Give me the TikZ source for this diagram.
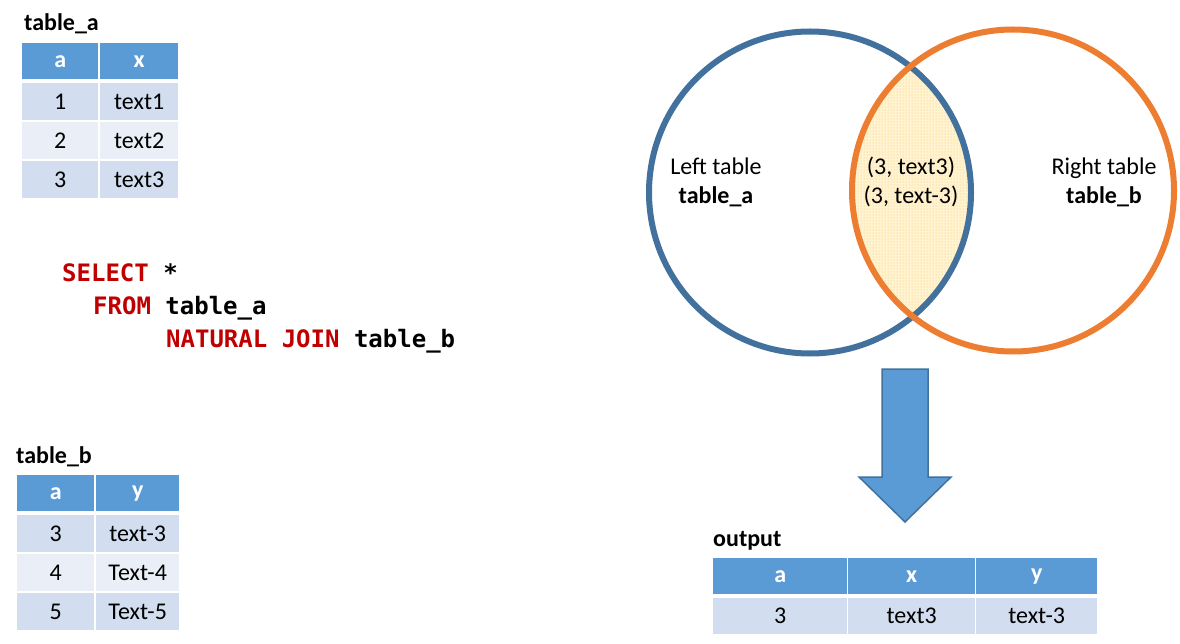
\documentclass[tikz,border=0pt]{standalone}
\usepackage{fontspec}
\setmainfont{Carlito}
\newfontfamily\sqlfont{DejaVu Sans Mono}
\usetikzlibrary{patterns}
\definecolor{hdr}{HTML}{5B9BD5}
\definecolor{rowdark}{HTML}{D2DEEF}
\definecolor{rowlight}{HTML}{EAEFF7}
\definecolor{vblue}{HTML}{41719C}
\definecolor{vorange}{HTML}{ED7D31}
\definecolor{sqlred}{HTML}{C00000}
\definecolor{lensfill}{HTML}{FFF3D2}
\definecolor{lensdot}{HTML}{F5C85A}
\definecolor{arrowedge}{HTML}{41719C}
\tikzset{
  cellbase/.style={anchor=north west, inner sep=0pt, font=\fontsize{24}{28}\selectfont},
  hdrcell/.style={cellbase, fill=hdr, text=white, font=\fontsize{24}{28}\selectfont\bfseries},
  darkcell/.style={cellbase, fill=rowdark, text=black},
  lightcell/.style={cellbase, fill=rowlight, text=black},
  tlabel/.style={anchor=base west, inner sep=0pt, font=\fontsize{24}{28}\selectfont\bfseries},
  sqlline/.style={anchor=base west, inner sep=0pt, font=\sqlfont\bfseries\fontsize{24}{28}\selectfont},
  venntext/.style={anchor=base, inner sep=0pt, font=\fontsize{24}{28}\selectfont},
  vennbold/.style={anchor=base, inner sep=0pt, font=\fontsize{24}{28}\selectfont\bfseries},
  ring/.style={line width=6pt}
}
\begin{document}
\begin{tikzpicture}[x=1pt,y=-1pt]
\useasboundingbox[fill=white] (0,0) rectangle (1180,644);

% ---------- table_a ----------
\node[tlabel] (talabel) at (24,31) {table\_a};
\node[hdrcell, minimum width=76pt, minimum height=36pt] (ta-h1) at (22,43) {a};
\node[hdrcell, minimum width=78pt, minimum height=36pt] (ta-h2) at (100,43) {x};
\node[darkcell, minimum width=76pt, minimum height=37pt] (ta-11) at (22,83) {1};
\node[darkcell, minimum width=78pt, minimum height=37pt] (ta-12) at (100,83) {text1};
\node[lightcell, minimum width=76pt, minimum height=37pt] (ta-21) at (22,122) {2};
\node[lightcell, minimum width=78pt, minimum height=37pt] (ta-22) at (100,122) {text2};
\node[darkcell, minimum width=76pt, minimum height=37pt] (ta-31) at (22,161) {3};
\node[darkcell, minimum width=78pt, minimum height=37pt] (ta-32) at (100,161) {text3};

% ---------- SQL ----------
\node[sqlline] (sql1) at (62,282) {\textcolor{sqlred}{SELECT} *};
\node[sqlline] (sql2) at (93,314) {\textcolor{sqlred}{FROM} table\_a};
\node[sqlline] (sql3) at (166,347) {\textcolor{sqlred}{NATURAL JOIN} table\_b};

% ---------- table_b ----------
\node[tlabel] (tblabel) at (16,463) {table\_b};
\node[hdrcell, minimum width=77pt, minimum height=36pt] (tb-h1) at (17,475) {a};
\node[hdrcell, minimum width=83pt, minimum height=36pt] (tb-h2) at (96,475) {y};
\node[darkcell, minimum width=77pt, minimum height=37pt] (tb-11) at (17,515) {3};
\node[darkcell, minimum width=83pt, minimum height=37pt] (tb-12) at (96,515) {text-3};
\node[lightcell, minimum width=77pt, minimum height=37pt] (tb-21) at (17,554) {4};
\node[lightcell, minimum width=83pt, minimum height=37pt] (tb-22) at (96,554) {Text-4};
\node[darkcell, minimum width=77pt, minimum height=37pt] (tb-31) at (17,593) {5};
\node[darkcell, minimum width=83pt, minimum height=37pt] (tb-32) at (96,593) {Text-5};

% ---------- Venn ----------
\begin{scope}
  \clip (810,192.5) ellipse [x radius=161, y radius=161];
  \fill[lensfill] (1013,190.5) ellipse [x radius=161, y radius=161];
  \fill[pattern=dots, pattern color=lensdot] (1013,190.5) ellipse [x radius=161, y radius=161];
\end{scope}
\draw[ring, vblue] (810,192.5) ellipse [x radius=161, y radius=161];
\draw[ring, vorange] (1013,190.5) ellipse [x radius=161, y radius=161];

\node[venntext] (lt1) at (716,175) {Left table};
\node[vennbold] (lt2) at (716,204) {table\_a};
\node[venntext] (mid1) at (911,175) {(3, text3)};
\node[venntext] (mid2) at (911,204) {(3, text-3)};
\node[venntext] (rt1) at (1104,175) {Right table};
\node[vennbold] (rt2) at (1104,204) {table\_b};

% ---------- block arrow ----------
\draw[fill=hdr, draw=arrowedge, line width=1.5pt, line join=miter]
  (882,369) -- (928,369) -- (928,477) -- (951,477) -- (905,522) -- (859,477) -- (882,477) -- cycle;

% ---------- output ----------
\node[tlabel] (outlabel) at (713,546) {output};
\node[hdrcell, minimum width=134pt, minimum height=36pt] (o-h1) at (713,558) {a};
\node[hdrcell, minimum width=127pt, minimum height=36pt] (o-h2) at (848,558) {x};
\node[hdrcell, minimum width=121pt, minimum height=36pt] (o-h3) at (976,558) {y};
\node[darkcell, minimum width=134pt, minimum height=36pt] (o-11) at (713,598) {3};
\node[darkcell, minimum width=127pt, minimum height=36pt] (o-12) at (848,598) {text3};
\node[darkcell, minimum width=121pt, minimum height=36pt] (o-13) at (976,598) {text-3};
\end{tikzpicture}
\end{document}
